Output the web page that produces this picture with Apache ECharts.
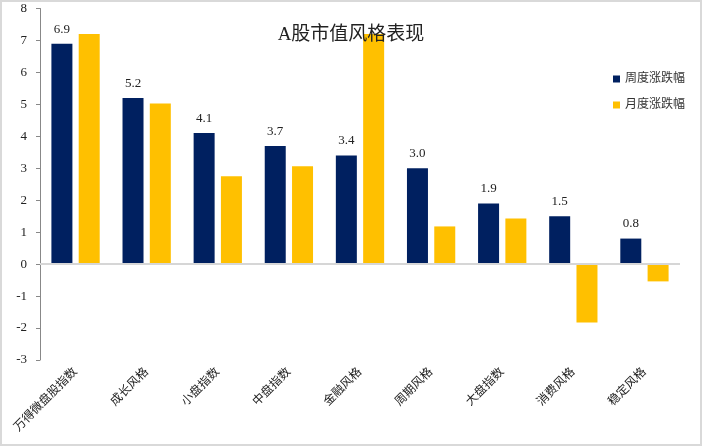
<!DOCTYPE html>
<html>
<head>
<meta charset="utf-8">
<script src="https://cdn.jsdelivr.net/npm/echarts@6/dist/echarts.min.js"></script>
<style>
  html, body { margin: 0; padding: 0; background: #fff; }
  #chart { width: 702px; height: 446px; box-sizing: border-box; border: 2px solid #d9d9d9; }
</style>
</head>
<body>
<div id="chart"></div>
<script>
var categories = ['万得微盘股指数', '成长风格', '小盘指数', '中盘指数', '金融风格', '周期风格', '大盘指数', '消费风格', '稳定风格'];
var weeklyChange = [6.9, 5.2, 4.1, 3.7, 3.4, 3.0, 1.9, 1.5, 0.8];
var monthlyChange = [7.2, 5.03, 2.75, 3.06, 7.2, 1.18, 1.43, -1.83, -0.54];
var seriesNames = ['周度涨跌幅', '月度涨跌幅'];

var serifFont = '"Liberation Serif", "Noto Sans CJK SC", serif';

var chart = echarts.init(document.getElementById('chart'));

var options = {
  animation: false,
  title: {
    text: 'A股市值风格表现',
    left: 'center',
    top: 19,
    textStyle: {
      fontFamily: serifFont,
      fontSize: 19,
      fontWeight: 'normal',
      color: '#222'
    }
  },
  grid: {
    left: 38, right: 20, top: 6, bottom: 84
  },
  color: ['#002060', '#FFC000'],
  legend: {
    orient: 'vertical',
    left: 606,
    top: 66,
    itemWidth: 7,
    itemHeight: 7,
    itemGap: 14,
    icon: 'rect',
    textStyle: {
      fontFamily: serifFont,
      fontSize: 12,
      color: '#333'
    },
    data: seriesNames
  },
  xAxis: [
    {
      type: 'category',
      data: categories,
      axisLine: { show: false, onZero: false },
      axisTick: { show: false },
      axisLabel: {
        rotate: 45,
        margin: 10,
        fontFamily: serifFont,
        fontSize: 12,
        color: '#222'
      }
    }
  ],
  yAxis: [
    {
      type: 'value',
      min: -3,
      max: 8,
      interval: 1,
      axisLine: { show: true, lineStyle: { color: '#888', width: 1 } },
      axisTick: { show: true, length: 4, lineStyle: { color: '#888' } },
      splitLine: { show: false },
      axisLabel: {
        margin: 13,
        fontFamily: serifFont,
        fontSize: 13,
        color: '#222'
      }
    }
  ],
  series: [
    {
      name: seriesNames[0],
      type: 'bar',
      barWidth: 21,
      barGap: '30%',
      data: weeklyChange,
      label: {
        show: true,
        position: 'top',
        distance: 8,
        formatter: function (p) { return p.value.toFixed(1); },
        fontFamily: serifFont,
        fontSize: 13,
        color: '#222'
      },
      markLine: {
        silent: true,
        symbol: 'none',
        label: { show: false },
        lineStyle: { color: '#d6d6d6', width: 2, type: 'solid' },
        data: [{ yAxis: 0 }]
      }
    },
    {
      name: seriesNames[1],
      type: 'bar',
      barWidth: 21,
      data: monthlyChange
    }
  ]
};

chart.setOption(options);
</script>
</body>
</html>
